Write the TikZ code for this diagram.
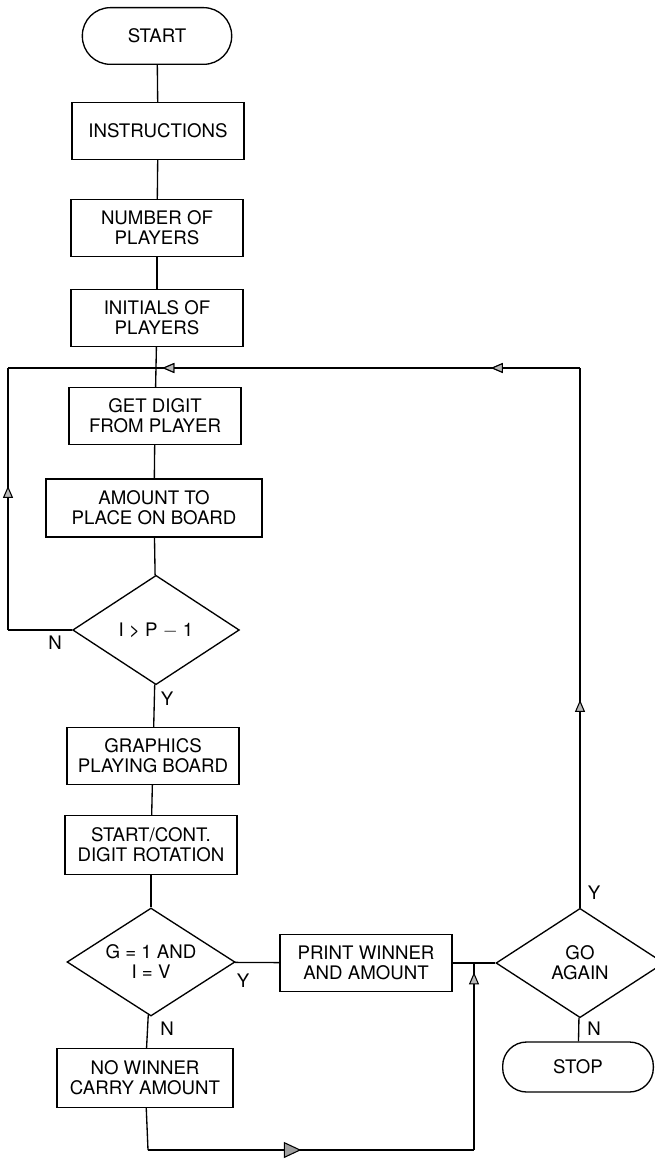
\documentclass[tikz,border=0pt]{standalone}
\usepackage{fontspec}
\setmainfont{TeX Gyre Heros}
\usetikzlibrary{shapes.geometric, arrows.meta, decorations.markings}
\begin{document}
\begin{tikzpicture}[x=0.75pt, y=-0.75pt,
  txt/.style={font=\fontsize{14}{15}\selectfont},
  conn/.style={line width=1pt},
  box/.style={draw, line width=1pt, align=center, minimum width=129pt, minimum height=42.5pt, inner sep=0pt, txt},
  term/.style={box, rounded corners=21pt},
  dec/.style={draw, diamond, line width=1pt, align=center, minimum width=125pt, minimum height=82pt, inner sep=0pt, aspect=1.5, txt},
  lbl/.style={txt, inner sep=0pt},
  arrowmid/.style={postaction={decorate}, decoration={markings, mark=at position #1 with {\arrow{Triangle[length=9pt,width=7.5pt,fill=gray!55,line width=0.8pt]}}}},
  bigarrow/.style={postaction={decorate}, decoration={markings, mark=at position #1 with {\arrow{Triangle[length=13pt,width=12pt,fill=gray!75,line width=0.8pt]}}}}
]
\useasboundingbox (0,0) rectangle (654,1162);

% nodes
\node[term, minimum width=112pt] (start) at (157,36) {START};
\node[box] (instr) at (158,131) {INSTRUCTIONS};
\node[box] (num) at (157,228) {NUMBER OF\\PLAYERS};
\node[box] (init) at (157,318) {INITIALS OF\\PLAYERS};
\node[box] (get) at (155,416) {GET DIGIT\\FROM PLAYER};
\node[box, minimum width=162pt, minimum height=43.5pt] (amt) at (154,508) {AMOUNT TO\\PLACE ON BOARD};
\node[dec] (d1) at (156,630) {I > P $-$ 1};
\node[box] (gfx) at (153,756) {GRAPHICS\\PLAYING BOARD};
\node[box, minimum height=44pt] (sc) at (151,845) {START/CONT.\\DIGIT ROTATION};
\node[dec, minimum width=126pt, minimum height=81pt] (d2) at (151,962) {G = 1 AND\\I = V};
\node[box] (pw) at (366,963) {PRINT WINNER\\AND AMOUNT};
\node[dec, minimum width=126pt, minimum height=82pt] (d3) at (580,963) {GO\\AGAIN};
\node[term, minimum width=113pt, minimum height=37.5pt, rounded corners=18pt] (stop) at (578,1067) {STOP};
\node[box, minimum width=132pt, minimum height=44pt] (nw) at (145,1078) {NO WINNER\\CARRY AMOUNT};

% coordinates
\coordinate (j1) at (156,368);
\coordinate (ll) at (8,630);
\coordinate (tl) at (8,368);
\coordinate (tr) at (580,368);
\coordinate (bl) at (148,1150);
\coordinate (br) at (474,1150);
\coordinate (jn) at (474,963);

% main column
\draw[conn] (start) -- (instr);
\draw[conn] (instr) -- (num);
\draw[conn] (num) -- (init);
\draw[conn] (init) -- (get);
\draw[conn] (get) -- (amt);
\draw[conn] (amt) -- (d1);
\draw[conn] (d1) -- (gfx);
\draw[conn] (gfx) -- (sc);
\draw[conn] (sc) -- (d2);
\draw[conn] (d2) -- (nw);
\draw[conn] (d2) -- (pw);
\draw[conn] (pw) -- (d3);
\draw[conn] (d3) -- (stop);

% left loop (N)
\draw[conn] (d1.west) -- (ll);
\draw[conn, arrowmid=0.55] (ll) -- (tl);
\draw[conn] (tl) -- (j1);

% right loop (Y, go again)
\draw[conn, arrowmid=0.385] (d3.north) -- (tr);
\draw[conn, arrowmid=0.21, arrowmid=0.985] (tr) -- (j1);

% no-winner path
\draw[conn] (nw) -- (bl);
\draw[conn, bigarrow=0.47] (bl) -- (br);
\draw[conn, arrowmid=0.95] (br) -- (jn);

% labels
\node[lbl] (n1) at (55,643) {N};
\node[lbl] (y1) at (167,699) {Y};
\node[lbl] (y2) at (243,981) {Y};
\node[lbl] (n2) at (167,1029) {N};
\node[lbl] (y3) at (594,893) {Y};
\node[lbl] (n3) at (594,1029) {N};
\end{tikzpicture}
\end{document}
